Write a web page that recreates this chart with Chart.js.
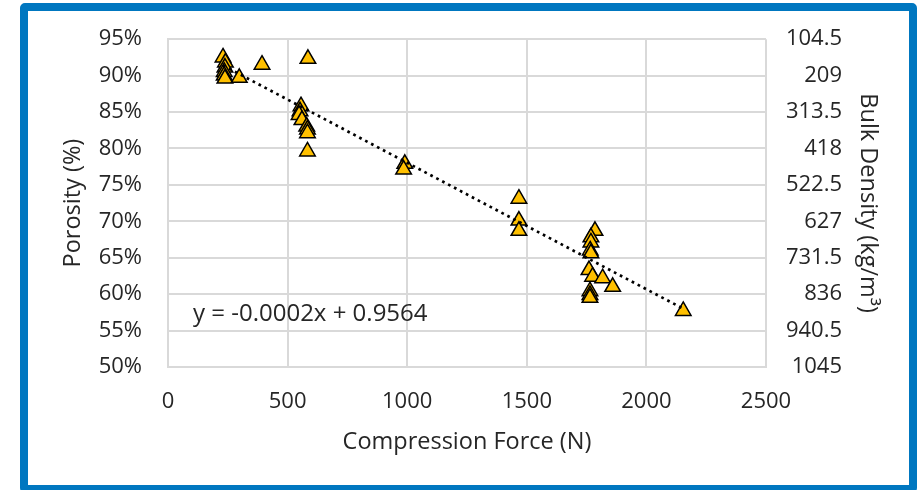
<!DOCTYPE html>
<html>
<head>
<meta charset="utf-8">
<script src="https://cdn.jsdelivr.net/npm/chart.js@4/dist/chart.umd.min.js"></script>
<style>
  html, body { margin: 0; padding: 0; background: #ffffff; overflow: hidden; }
  #frame { position: absolute; left: 20px; top: 3px; width: 897px; height: 490px; box-sizing: border-box;
           border: 8px solid #0077c0; border-radius: 5px; background: #ffffff; }
  #c { position: absolute; left: 0; top: 0; }
</style>
</head>
<body>
<div id="frame"></div>
<canvas id="c" width="918" height="490"></canvas>
<script>
// ---- data ----
const forceN = [230, 240, 238, 235, 235, 238, 298, 393, 585,
                556, 552, 548, 560, 580, 583, 583, 583,
                990, 985,
                1467, 1467, 1467,
                1785, 1768, 1768, 1765, 1768, 1760, 1775, 1817, 1859, 1764, 1764, 1764, 2154];
const porosityPct = [92.5, 91.8, 91.1, 90.5, 90.0, 89.6, 89.7, 91.5, 92.3,
                     85.8, 85.1, 84.6, 83.9, 83.0, 82.6, 82.1, 79.6,
                     77.9, 77.1,
                     73.1, 70.1, 68.7,
                     68.7, 67.8, 67.1, 66.0, 65.6, 63.3, 62.4, 62.2, 61.0, 60.4, 59.9, 59.5, 57.7];
const trendX = [230, 2154];
const trendY = [91.4, 58.0];
const xTicks = [0, 500, 1000, 1500, 2000, 2500];
const leftTicks = [50, 55, 60, 65, 70, 75, 80, 85, 90, 95];
const rightTicks = [104.5, 209, 313.5, 418, 522.5, 627, 731.5, 836, 940.5, 1045];
const rightTickLabels = ['104.5', '209', '313.5', '418', '522.5', '627', '731.5', '836', '940.5', '1045'];
const equationText = 'y = -0.0002x + 0.9564';
const xTitle = 'Compression Force (N)';
const yTitle = 'Porosity (%)';
const y2Title = 'Bulk Density (kg/m³)';

const FONT = "'Open Sans', 'Noto Sans', sans-serif";
const TXT = '#262626';
const GRID = '#d9d9d9';

const scatterData = forceN.map((x, i) => ({ x: x, y: porosityPct[i] }));
const trendData = trendX.map((x, i) => ({ x: x, y: trendY[i] }));

const equationPlugin = {
  id: 'equation',
  afterDatasetsDraw(chart) {
    const ctx = chart.ctx;
    ctx.save();
    ctx.font = '24px ' + FONT;
    ctx.fillStyle = TXT;
    ctx.textAlign = 'left';
    ctx.textBaseline = 'middle';
    ctx.fillText(equationText, 193, 314);
    ctx.restore();
  }
};

new Chart(document.getElementById('c'), {
  type: 'scatter',
  data: {
    datasets: [
      {
        label: 'Linear trend',
        data: trendData,
        type: 'line',
        showLine: true,
        borderColor: '#000000',
        borderWidth: 2.7,
        borderDash: [2.7, 4],
        pointRadius: 0,
        fill: false,
        yAxisID: 'y'
      },
      {
        label: 'Porosity',
        data: scatterData,
        pointStyle: 'triangle',
        pointRadius: 9,
        pointHoverRadius: 9,
        backgroundColor: '#ffc000',
        borderColor: '#000000',
        borderWidth: 1.5,
        yAxisID: 'y'
      }
    ]
  },
  options: {
    responsive: false,
    animation: false,
    events: [],
    layout: { padding: { left: 0, right: 76, top: 38, bottom: 0 } },
    plugins: { legend: { display: false }, tooltip: { enabled: false } },
    scales: {
      x: {
        type: 'linear',
        min: 0, max: 2500,
        afterBuildTicks: s => { s.ticks = xTicks.map(v => ({ value: v })); },
        afterFit: s => { s.height = 123; },
        grid: { color: GRID, lineWidth: 2, drawTicks: false },
        border: { display: true, color: GRID, width: 2 },
        ticks: { padding: 22, color: TXT, font: { family: FONT, size: 22 }, maxRotation: 0, callback: v => String(v) },
        title: { display: true, text: xTitle, color: TXT, font: { family: FONT, size: 23.5 }, padding: { top: 0, bottom: 34 } }
      },
      y: {
        type: 'linear',
        position: 'left',
        min: 50, max: 95,
        afterBuildTicks: s => { s.ticks = leftTicks.map(v => ({ value: v })); },
        afterFit: s => { s.width = 168; },
        grid: { color: GRID, lineWidth: 2, drawTicks: false },
        border: { display: true, color: GRID, width: 2 },
        ticks: { padding: 26, color: TXT, font: { family: FONT, size: 22 }, callback: v => v + '%' },
        title: { display: true, text: yTitle, color: TXT, font: { family: FONT, size: 23.5 }, padding: { top: 59, bottom: 0 } }
      },
      y2: {
        type: 'linear',
        position: 'right',
        reverse: true,
        min: 104.5, max: 1045,
        afterBuildTicks: s => { s.ticks = rightTicks.map(v => ({ value: v })); },
        afterFit: s => { s.width = 76; },
        grid: { display: false, drawTicks: false },
        border: { display: false },
        ticks: {
          crossAlign: 'far', padding: 0, color: TXT, font: { family: FONT, size: 22 },
          callback: (v, i) => rightTickLabels[i]
        },
        title: { display: true, text: y2Title, color: TXT, font: { family: FONT, size: 23.5 }, padding: { top: -40, bottom: 0 } }
      }
    }
  },
  plugins: [equationPlugin]
});
</script>
</body>
</html>
